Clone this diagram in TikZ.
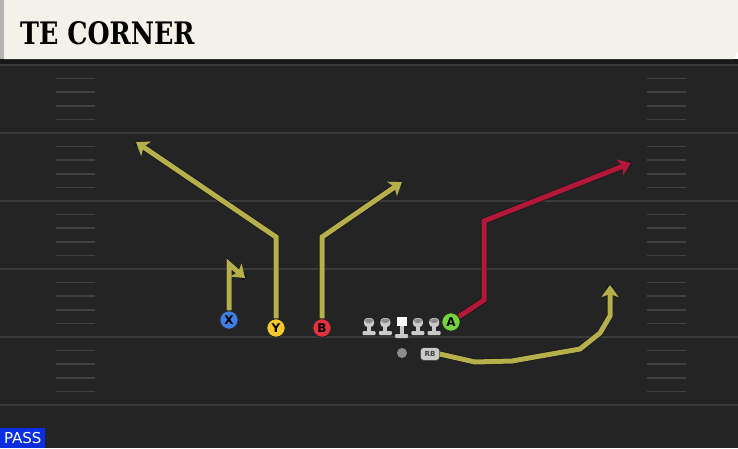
\documentclass[tikz,border=0pt]{standalone}
\usepackage{fontspec}
\setsansfont{DejaVu Sans}
\newfontfamily\playfont{DejaVu Serif}[FakeStretch=0.82]
\usetikzlibrary{arrows.meta,positioning}

\definecolor{fieldbg}{HTML}{242424}
\definecolor{fieldband}{HTML}{181818}
\definecolor{fieldline}{HTML}{3A3A3A}
\definecolor{hashline}{HTML}{414141}
\definecolor{headerbg}{HTML}{F4F1EA}
\definecolor{headeredge}{HTML}{B4B4B4}
\definecolor{routeyellow}{HTML}{B5B04C}
\definecolor{routered}{HTML}{B3173A}
\definecolor{routeedge}{HTML}{161616}
\definecolor{xblue}{HTML}{3F7FE3}
\definecolor{yyellow}{HTML}{F5C829}
\definecolor{bred}{HTML}{E2303C}
\definecolor{agreen}{HTML}{72D63C}
\definecolor{olgray}{HTML}{CACACA}
\definecolor{olcap}{HTML}{8C8C8C}
\definecolor{passblue}{HTML}{0B2FE0}

\tikzstyle{player} = [circle, minimum size=18.5pt, inner sep=0pt, draw=black!85, line width=1pt, font=\sffamily\bfseries\fontsize{12}{12}\selectfont]
\tikzstyle{route} = [line width=5pt, draw=routeyellow, preaction={draw=routeedge, line width=6.4pt, -}, -{Stealth[length=12pt,width=17pt,inset=3pt]}]
\tikzstyle{hotroute} = [route, draw=routered]
\tikzstyle{lineman} = [minimum width=14pt, minimum height=24pt, inner sep=0pt, path picture={
  \begin{scope}[shift={(path picture bounding box.center)}]
  \fill[olgray, rounded corners=3.5pt] (-5,0) -- (-5,-9) -- (5,-9) -- (5,0) -- cycle;
  \fill[olcap, rounded corners=3pt] (-4,-4) -- (-4,-8.5) -- (4,-8.5) -- (4,-4) -- cycle;
  \fill[olgray] (-2,-1) rectangle (2,4);
  \fill[olgray, rounded corners=1pt] (-6.5,4) rectangle (6.5,8);
  \end{scope}}]
\tikzstyle{center} = [minimum width=14pt, minimum height=30pt, inner sep=0pt, path picture={
  \begin{scope}[shift={(path picture bounding box.center)}]
  \fill[white] (-5,-13) rectangle (5,-4);
  \fill[olgray] (-2,-4) rectangle (2,4);
  \fill[olgray, rounded corners=1pt] (-6.5,4) rectangle (6.5,8);
  \end{scope}}]

\begin{document}
\begin{tikzpicture}[x=1pt, y=-1pt, node distance=16.3pt]
\useasboundingbox (0,0) rectangle (738,448);

% field
\fill[fieldbg] (0,59) rectangle (738,448);
\fill[fieldband] (0,59) rectangle (738,64);
\foreach \y in {65,133,201,269,337,405}
  \draw[fieldline, line width=1.5pt] (0,\y) -- (738,\y);
\foreach \y in {65,133,201,269,337}
  \foreach \k in {1,2,3,4} {
    \draw[hashline, line width=1.5pt] (56,\y+13.6*\k) -- (95,\y+13.6*\k);
    \draw[hashline, line width=1.5pt] (647,\y+13.6*\k) -- (686,\y+13.6*\k);
  }

% header
\fill[headeredge] (0,0) rectangle (4,59);
\fill[headerbg] (4,0) -- (738,0) -- (738,52) -- (733,59) -- (4,59) -- cycle;
\node (title) [anchor=base west, inner sep=0pt, font=\playfont\bfseries\fontsize{31}{31}\selectfont] at (20,44) {TE CORNER};

% line
\node (lt) [lineman] at (369,327) {};
\node (lg) [lineman, right of=lt] {};
\node (c) [center, right of=lg, yshift=-3pt] {};
\node (rg) [lineman, right of=lg, xshift=16.3pt] {};
\node (rt) [lineman, right of=rg] {};
\node (qb) [circle, minimum size=10pt, inner sep=0pt, fill=olcap] at (402,353) {};
\node (rb) [rounded corners=3pt, minimum width=19pt, minimum height=12.5pt, inner sep=0pt, fill=olgray, draw=black!80, font=\sffamily\bfseries\fontsize{7}{7}\selectfont, text=black!75] at (430,354) {RB};

% players
\node (x) [player, fill=xblue] at (229,320) {X};
\node (y) [player, fill=yyellow] at (276,328) {Y};
\node (b) [player, fill=bred] at (322,328) {B};
\node (a) [player, fill=agreen] at (451,322) {A};

% routes
\coordinate (xend) at (245,278);
\coordinate (yend) at (136,142);
\coordinate (bend) at (402,182);
\coordinate (aend) at (631,163);
\coordinate (rbend) at (610,285);
\draw [route] (x) -- (229,264) -- (xend);
\draw [route] (y) -- (276,237) -- (yend);
\draw [route] (b) -- (322,237) -- (bend);
\draw [hotroute] (a) -- (484,300) -- (484,221) -- (aend);
\draw [route] (rb.east) -- (475,362) -- (512,361) -- (580,349) -- (600,333) -- (610,316) -- (rbend);

% play type
\node (pass) [anchor=south west, fill=passblue, text=white, minimum width=45pt, minimum height=20pt, inner sep=0pt, font=\sffamily\fontsize{15}{15}\selectfont] at (0,448) {PASS};
\end{tikzpicture}
\end{document}
